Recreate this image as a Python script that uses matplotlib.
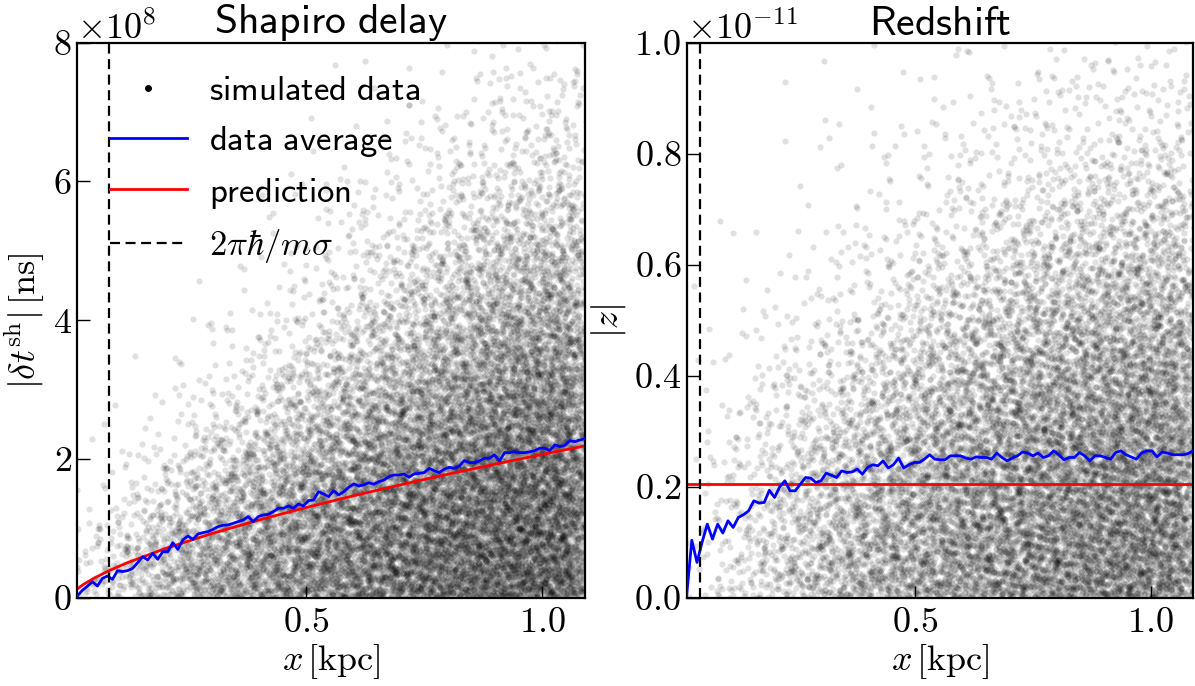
import numpy as np
import matplotlib.pyplot as plt
from matplotlib.lines import Line2D
from matplotlib.ticker import ScalarFormatter

plt.rcParams['font.family'] = 'serif'
plt.rcParams['font.serif'] = ['cmr10']
plt.rcParams['mathtext.fontset'] = 'cm'
plt.rcParams['axes.formatter.use_mathtext'] = True
plt.rcParams['axes.unicode_minus'] = False

# x range in kpc and the 2*pi*hbar/(m sigma) markers
x_lo, x_hi = 0.016, 1.09
lam_shapiro = 0.083
lam_redshift = 0.044

# binned data average, Shapiro delay in units of 1e8 ns
shapiro_avg = [0.029, 0.11, 0.17, 0.235, 0.173, 0.283, 0.317, 0.269, 0.394, 0.380,
               0.394, 0.427, 0.509, 0.596, 0.548, 0.644, 0.557, 0.668, 0.668, 0.797,
               0.701, 0.836, 0.893, 0.845, 0.922, 0.941, 0.956, 0.989, 1.028, 1.047,
               1.052, 1.076, 1.100, 1.124, 1.172, 1.100, 1.172, 1.196, 1.205, 1.244,
               1.292, 1.292, 1.326, 1.292, 1.354, 1.326, 1.403, 1.412, 1.532, 1.499,
               1.460, 1.547, 1.484, 1.532, 1.595, 1.643, 1.614, 1.63, 1.66, 1.64,
               1.676, 1.700, 1.748, 1.772, 1.772, 1.787, 1.739, 1.787, 1.796, 1.806,
               1.868, 1.834, 1.806, 1.854, 1.883, 1.868, 1.902, 1.979, 1.950, 1.950,
               1.974, 2.013, 2.013, 2.061, 1.974, 2.094, 2.094, 2.108, 2.094, 2.094,
               2.104, 2.123, 2.157, 2.157, 2.123, 2.205, 2.181, 2.200, 2.267, 2.252,
               2.277, 2.296]

# binned data average, redshift in units of 1e-11
redshift_avg = [0.005, 0.104, 0.064, 0.101, 0.133, 0.106, 0.133, 0.117, 0.139, 0.127,
                0.145, 0.150, 0.157, 0.175, 0.171, 0.172, 0.194, 0.181, 0.200, 0.211,
                0.193, 0.193, 0.205, 0.217, 0.216, 0.208, 0.211, 0.225, 0.221, 0.217,
                0.229, 0.226, 0.227, 0.232, 0.223, 0.235, 0.240, 0.238, 0.247, 0.234,
                0.240, 0.252, 0.234, 0.240, 0.244, 0.244, 0.250, 0.258, 0.250, 0.249,
                0.249, 0.256, 0.256, 0.256, 0.252, 0.250, 0.254, 0.253, 0.253, 0.250,
                0.261, 0.253, 0.247, 0.252, 0.256, 0.263, 0.261, 0.256, 0.261, 0.253,
                0.256, 0.265, 0.258, 0.249, 0.253, 0.253, 0.262, 0.256, 0.247, 0.256,
                0.256, 0.253, 0.250, 0.262, 0.265, 0.258, 0.254, 0.250, 0.261, 0.265,
                0.265, 0.254, 0.263, 0.261, 0.258, 0.258, 0.258, 0.260, 0.265]

# predictions
pred_x = [0.016, 0.03, 0.05, 0.08, 0.12, 0.2, 0.3, 0.4, 0.5, 0.6, 0.7, 0.8, 0.9, 1.0, 1.09]
shapiro_pred = [0.131, 0.200, 0.280, 0.384, 0.503, 0.707, 0.927, 1.123, 1.303, 1.472,
                1.631, 1.783, 1.928, 2.069, 2.192]
redshift_pred = 0.206

# simulated data, read as number of points per cell (columns in x, rows in y)
x_edges = [0.0, 0.1, 0.2, 0.3, 0.4, 0.5, 0.6, 0.7, 0.8, 0.9, 1.0, 1.1]
shapiro_y_edges = [0, 1, 2, 3, 4, 5, 6, 7, 8]
shapiro_counts = [
    [60, 5, 0, 0, 0, 0, 0, 0],
    [180, 40, 5, 1, 0, 0, 0, 0],
    [300, 130, 25, 4, 1, 0, 0, 0],
    [400, 240, 80, 18, 4, 1, 0, 0],
    [480, 340, 150, 50, 14, 4, 1, 0],
    [560, 440, 250, 105, 38, 11, 4, 1],
    [630, 530, 350, 180, 75, 28, 9, 3],
    [690, 600, 440, 260, 130, 52, 18, 6],
    [740, 660, 520, 350, 200, 90, 34, 12],
    [790, 720, 590, 430, 260, 125, 50, 20],
    [780, 720, 600, 460, 295, 155, 70, 28],
]
redshift_y_edges = [0.0, 0.1, 0.2, 0.3, 0.4, 0.5, 0.6, 0.7, 0.8, 0.9, 1.0]
redshift_counts = [
    [15, 12, 7, 4, 2, 1, 0, 0, 0, 0],
    [70, 55, 38, 18, 8, 3, 1, 1, 0, 0],
    [140, 115, 85, 45, 22, 9, 4, 2, 1, 1],
    [210, 180, 135, 85, 45, 20, 10, 5, 3, 2],
    [270, 240, 190, 135, 80, 40, 18, 9, 5, 3],
    [320, 290, 250, 190, 125, 68, 35, 16, 9, 5],
    [360, 340, 300, 240, 170, 100, 56, 28, 14, 8],
    [390, 370, 335, 280, 210, 135, 80, 40, 20, 11],
    [420, 400, 365, 305, 240, 165, 100, 54, 26, 14],
    [450, 430, 395, 330, 265, 185, 115, 64, 30, 16],
    [445, 425, 390, 335, 270, 195, 125, 70, 34, 18],
]


def radical_inverse(k, base):
    out = np.zeros(len(k))
    f = 1.0 / base
    k = k.copy()
    while np.any(k > 0):
        out += f * (k % base)
        k //= base
        f /= base
    return out


def cell_points(counts, xe, ye):
    # spread each cell's points around its centre (Halton pattern,
    # triangular spread over neighbouring cells so no cell edges show)
    xs, ys = [], []
    start = 1
    for i, col in enumerate(counts):
        w = xe[i + 1] - xe[i]
        xc = xe[i] + w / 2
        for j, n in enumerate(col):
            h = ye[j + 1] - ye[j]
            yc = ye[j] + h / 2
            k = np.arange(start, start + n)
            start += n + 1
            u = [radical_inverse(k, b) for b in (2, 3, 5, 7)]
            xs.append(xc + (u[0] + u[2] - 1) * w)
            ys.append(np.abs(yc + (u[1] + u[3] - 1) * h))
    return np.concatenate(xs), np.concatenate(ys)


fig = plt.figure(figsize=(11.95, 6.86), dpi=100)
ax1 = fig.add_axes([0.0647, 0.1283, 0.4248, 0.8095])
ax2 = fig.add_axes([0.5746, 0.1283, 0.4239, 0.8095])

panels = [
    (ax1, shapiro_counts, shapiro_y_edges, 1e8, shapiro_avg, lam_shapiro,
     r'$\mathsf{Shapiro\ delay}$', r'$|\delta t^{\rm sh}|\,[\rm ns]$', 8e8),
    (ax2, redshift_counts, redshift_y_edges, 1e-11, redshift_avg, lam_redshift,
     r'$\mathsf{Redshift}$', r'$|z|$', 1e-11),
]

for ax, counts, ye, unit, avg, lam, title, ylab, ytop in panels:
    px, py = cell_points(counts, x_edges, ye)
    ax.scatter(px, py * unit, s=20, c='k', alpha=0.12, linewidths=0, zorder=1)
    xa = np.linspace(x_lo, x_hi, len(avg))
    ax.plot(xa, np.array(avg) * unit, color='b', lw=2, zorder=3)
    ax.axvline(lam, color='k', ls='--', lw=1.6, dashes=(4.5, 2.5), zorder=4)
    ax.set_xlim(x_lo, x_hi)
    ax.set_ylim(0, ytop)
    ax.set_xticks([0.5, 1.0])
    ax.set_title(title, fontsize=30, pad=2)
    ax.set_xlabel(r'$x\,[\rm kpc]$', fontsize=26, labelpad=2)
    ax.set_ylabel(ylab, fontsize=26, labelpad=4)
    fmt = ScalarFormatter(useMathText=True)
    fmt.set_powerlimits((0, 0))
    ax.yaxis.set_major_formatter(fmt)
    ax.yaxis.get_offset_text().set_fontsize(26)
    ax.tick_params(direction='in', length=9, width=1, labelsize=26)
    ax.tick_params(axis='x', pad=7)
    ax.tick_params(axis='y', pad=4)
    for sp in ax.spines.values():
        sp.set_linewidth(1.6)

ax1.plot(pred_x, np.array(shapiro_pred) * 1e8, color='r', lw=2, zorder=2)
ax2.axhline(redshift_pred * 1e-11, color='r', lw=2, zorder=2)
ax1.set_yticks([0, 2e8, 4e8, 6e8, 8e8])
ax2.set_yticks([0, 0.2e-11, 0.4e-11, 0.6e-11, 0.8e-11, 1.0e-11])

handles = [
    Line2D([], [], marker='o', ms=4, color='k', ls=''),
    Line2D([], [], color='b', lw=2),
    Line2D([], [], color='r', lw=2),
    Line2D([], [], color='k', ls='--', lw=1.6, dashes=(4.5, 2.5)),
]
labels = [r'$\mathsf{simulated\ data}$', r'$\mathsf{data\ average}$',
          r'$\mathsf{prediction}$', r'$2\pi\hbar/m\sigma$']
ax1.legend(handles, labels, loc='upper left', frameon=False, fontsize=25,
           handlelength=2.2, handletextpad=0.65, labelspacing=0.48,
           borderaxespad=0.55)

fig.savefig('out.png', dpi=100)
